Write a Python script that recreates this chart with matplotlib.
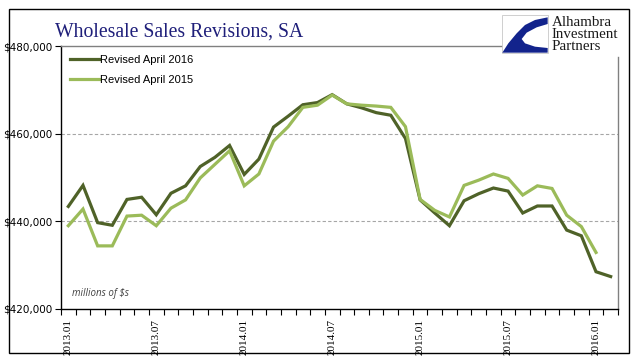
import matplotlib
matplotlib.use("Agg")
import matplotlib.pyplot as plt
from matplotlib.patches import Rectangle, Polygon

# ---- data ----
months = ["2013.01","2013.02","2013.03","2013.04","2013.05","2013.06","2013.07","2013.08",
          "2013.09","2013.10","2013.11","2013.12","2014.01","2014.02","2014.03","2014.04",
          "2014.05","2014.06","2014.07","2014.08","2014.09","2014.10","2014.11","2014.12",
          "2015.01","2015.02","2015.03","2015.04","2015.05","2015.06","2015.07","2015.08",
          "2015.09","2015.10","2015.11","2015.12","2016.01","2016.02"]
rev_2016 = [443400, 448200, 439700, 439100, 445000, 445500, 441500, 446400, 448100, 452500,
            454600, 457300, 450700, 454200, 461500, 464000, 466600, 467100, 468900, 466800,
            465900, 464800, 464200, 458900, 444900, 441900, 439000, 444700, 446300, 447600,
            446900, 441900, 443500, 443500, 438000, 436700, 428500, 427400]
rev_2015 = [439000, 442800, 434400, 434400, 441200, 441400, 439000, 443000, 444900, 449900,
            453000, 456100, 448100, 450800, 458300, 461600, 466000, 466500, 468800, 466800,
            466500, 466300, 466000, 461600, 445000, 442500, 441000, 448200, 449400, 450800,
            449800, 446000, 448100, 447500, 441400, 438800, 432900]
label_months = ["2013.01", "2013.07", "2014.01", "2014.07", "2015.01", "2015.07", "2016.01"]
yticks = [420000, 440000, 460000, 480000]
series_names = ["Revised April 2016", "Revised April 2015"]
title = "Wholesale Sales Revisions, SA"
logo_lines = ["Alhambra", "Investment", "Partners"]

W, H = 641, 358
fig = plt.figure(figsize=(W / 100, H / 100), dpi=100)

def fx(px):
    return px / W

def fy(py):
    return 1 - py / H

left, right, top, bottom = 61, 618, 46, 309
ax = fig.add_axes([fx(left), fy(bottom), fx(right - left), (bottom - top) / H])

dark = "#4F6228"
light = "#9BBB59"
x1 = list(range(len(rev_2016)))
x2 = list(range(len(rev_2015)))
ax.plot(x1, rev_2016, color=dark, lw=2.3, solid_joinstyle="miter", label=series_names[0], zorder=3)
ax.plot(x2, rev_2015, color=light, lw=2.3, solid_joinstyle="miter", label=series_names[1], zorder=3)

ax.set_xlim(-0.5, len(months) - 0.5)
ax.set_ylim(420000, 480000)

# grid
for v in [440000, 460000]:
    ax.axhline(v, color="#A6A6A6", lw=0.8, ls=(0, (3, 2)), zorder=1)

# spines
ax.spines["left"].set_color("black")
ax.spines["left"].set_linewidth(1.0)
ax.spines["bottom"].set_color("black")
ax.spines["bottom"].set_linewidth(1.0)
ax.spines["top"].set_color("#808080")
ax.spines["top"].set_linewidth(1.0)
ax.spines["top"].set_bounds(-0.5, (502 - left) / ((right - left) / len(months)) - 0.5)
ax.spines["right"].set_color("#808080")
ax.spines["right"].set_linewidth(1.0)
ax.spines["right"].set_bounds(420000, 480000 - (57 - top) / (bottom - top) * 60000)

# y ticks
ax.set_yticks(yticks)
ax.set_yticklabels(["${:,}".format(v) for v in yticks],
                   fontfamily=["Liberation Sans Narrow", "DejaVu Sans"], fontsize=7.5)
ax.tick_params(axis="y", direction="out", length=4, width=0.8, pad=2, colors="black")

# x ticks: labels at category centres, tick marks at boundaries
pos = [months.index(m) for m in label_months]
ax.set_xticks(pos)
ax.set_xticklabels(label_months, rotation=90, fontfamily=["Liberation Serif"], fontsize=8)
ax.tick_params(axis="x", which="major", length=0, pad=7)
ax.set_xticks([i - 0.5 for i in range(len(months) + 1)], minor=True)
ax.tick_params(axis="x", which="minor", direction="out", length=4, width=0.8)

# legend
leg = ax.legend(loc="upper left", bbox_to_anchor=(0.0, 1.0), frameon=False,
                prop={"family": "Liberation Sans", "size": 8}, handlelength=2.6,
                handletextpad=0.1, labelspacing=0.9, borderaxespad=0.4)

ax.text(0.02, 0.05, "millions of $s", transform=ax.transAxes, fontsize=7,
        style="italic", color="#404040", fontfamily="Open Sans")

# overlay for frame and title
ov = fig.add_axes([0, 0, 1, 1], zorder=-1)
ov.set_xlim(0, W)
ov.set_ylim(H, 0)
ov.axis("off")
ov.add_patch(Rectangle((9, 9), 620, 344, fill=False, ec="black", lw=1.0))

fig.text(fx(55), fy(32), title, fontfamily="Liberation Serif", fontsize=14.2,
         color="#1F1F7A", va="center", ha="left")

# logo
ov2 = fig.add_axes([0, 0, 1, 1], zorder=5)
ov2.set_xlim(0, W)
ov2.set_ylim(H, 0)
ov2.axis("off")
ov2.add_patch(Rectangle((502, 15), 46, 38, fc="white", ec="#C8C8C8", lw=0.6))
lx, ly = 495, 10
pts = [(158, 22), (120, 30), (90, 45), (65, 70), (40, 100), (22, 128), (158, 128),
       (158, 114), (120, 110), (90, 100), (80, 87), (95, 68), (125, 52), (158, 42)]
ov2.add_patch(Polygon([(lx + a / 3, ly + b / 3) for a, b in pts], closed=True,
                      fc="#12238C", ec="none"))
for i, t in enumerate(logo_lines):
    ov2.text(552, 23 + i * 12, t, fontfamily="Liberation Serif", fontsize=10.8,
             color="#1A1A1A", va="center", ha="left")

fig.savefig("out.png", dpi=100)
